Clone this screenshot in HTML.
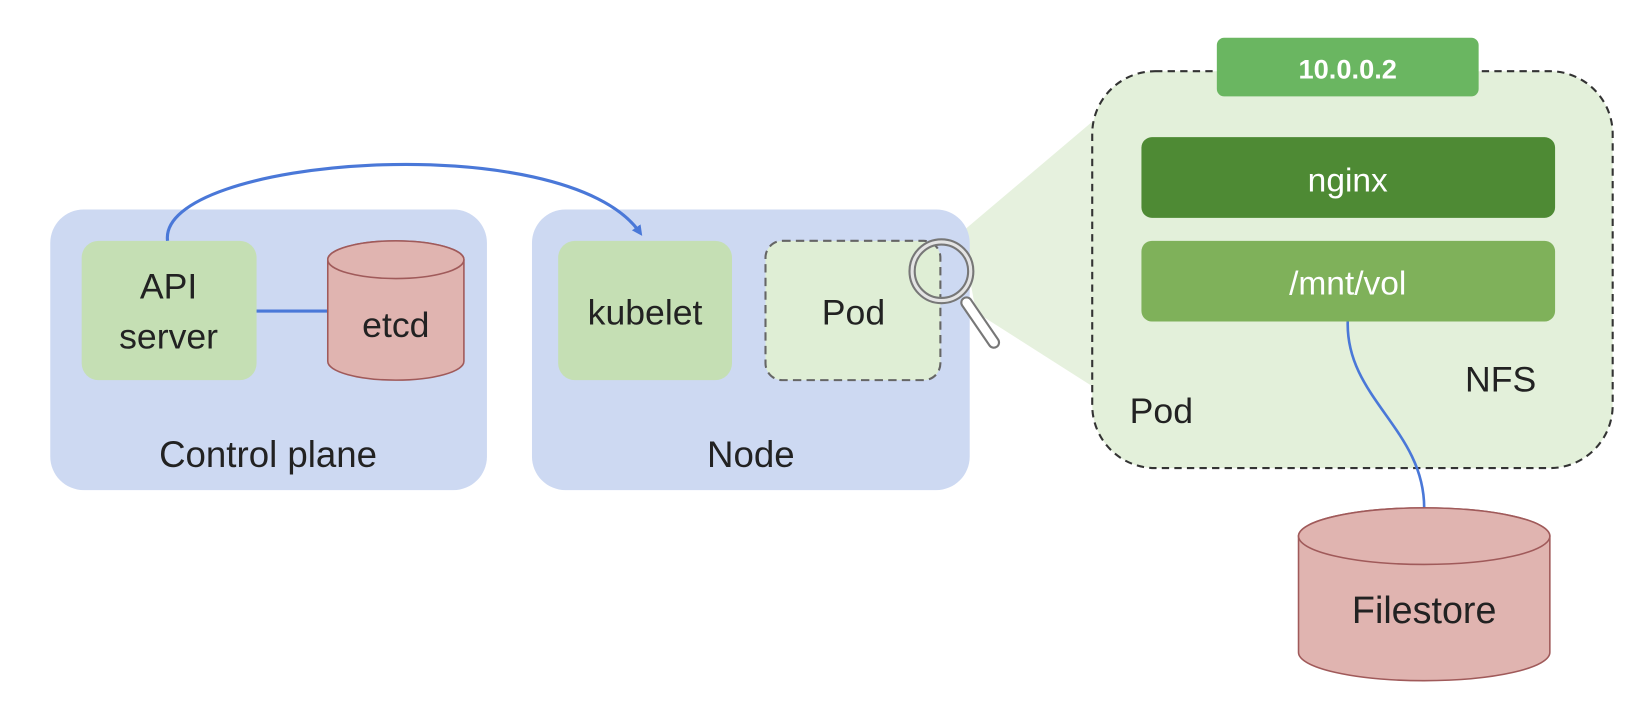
<!DOCTYPE html>
<html><head><meta charset="utf-8"><style>
html,body{margin:0;padding:0;background:#fff;}
svg{display:block;}
text{font-family:"Liberation Sans",sans-serif;}
</style></head><body>
<svg width="1642" height="710" viewBox="0 0 1568 678" preserveAspectRatio="none" xmlns="http://www.w3.org/2000/svg">
<defs>
<marker id="ah" markerWidth="10" markerHeight="10" refX="6" refY="5" orient="auto" markerUnits="userSpaceOnUse" viewBox="0 0 10 10">
<path d="M0,0 L10,5 L0,10 Z" fill="#4a78d8"/>
</marker>
</defs>
<!-- zoom wedge -->
<polygon points="918,222 1048,112 1048,372 932,298" fill="#e6f1de"/>
<!-- control plane -->
<rect x="48" y="200" width="417" height="268" rx="32" fill="#cdd9f2"/>
<rect x="78" y="230" width="167" height="133" rx="16" fill="#c5dfb4"/>
<text x="161" y="285" font-size="34" text-anchor="middle" fill="#222">API</text>
<text x="161" y="333" font-size="34" text-anchor="middle" fill="#222">server</text>
<line x1="245" y1="297" x2="313" y2="297" stroke="#4a78d8" stroke-width="3"/>
<path d="M313,248 L313,345 A65,18 0 0 0 443,345 L443,248 A65,18 0 0 0 313,248 Z" fill="#e0b4b0" stroke="#a05a5a" stroke-width="1.5"/>
<ellipse cx="378" cy="248" rx="65" ry="18" fill="#e0b4b0" stroke="#a05a5a" stroke-width="1.5"/>
<text x="378" y="322" font-size="34" text-anchor="middle" fill="#222">etcd</text>
<text x="256" y="446" font-size="35" text-anchor="middle" fill="#222">Control plane</text>
<!-- node -->
<rect x="508" y="200" width="418" height="268" rx="32" fill="#cdd9f2"/>
<rect x="533" y="230" width="166" height="133" rx="16" fill="#c5dfb4"/>
<text x="616" y="310" font-size="34" text-anchor="middle" fill="#222">kubelet</text>
<rect x="731" y="230" width="167" height="133" rx="16" fill="#dfeed5" stroke="#666" stroke-width="2" stroke-dasharray="8,5"/>
<text x="815" y="310" font-size="34" text-anchor="middle" fill="#222">Pod</text>
<text x="717" y="446" font-size="35" text-anchor="middle" fill="#222">Node</text>
<!-- arc -->
<path d="M160,230 C150,150 540,120 611,222" fill="none" stroke="#4a78d8" stroke-width="3" marker-end="url(#ah)"/>
<!-- magnifier -->
<g stroke="#777" fill="none">
<circle cx="899" cy="259" r="28" stroke-width="7"/>
<circle cx="899" cy="259" r="28" stroke="#fff" stroke-width="3" opacity="0.8"/>
<line x1="923" y1="289" x2="949" y2="327" stroke-width="12" stroke-linecap="round"/>
<line x1="923" y1="289" x2="949" y2="327" stroke="#fff" stroke-width="8" stroke-linecap="round"/>
</g>
<!-- big pod -->
<rect x="1043" y="68" width="497" height="379" rx="60" fill="#e3f0da" stroke="#333" stroke-width="2" stroke-dasharray="7,5"/>
<rect x="1162" y="36" width="250" height="56" rx="7" fill="#6ab661"/>
<text x="1287" y="75" font-size="26" font-weight="bold" text-anchor="middle" fill="#fff">10.0.0.2</text>
<rect x="1090" y="131" width="395" height="77" rx="10" fill="#4e8a34"/>
<text x="1287" y="183" font-size="32" text-anchor="middle" fill="#fff">nginx</text>
<rect x="1090" y="230" width="395" height="77" rx="10" fill="#7fb15a"/>
<text x="1287" y="281" font-size="32" text-anchor="middle" fill="#fff">/mnt/vol</text>
<text x="1433" y="374" font-size="34" text-anchor="middle" fill="#222">NFS</text>
<text x="1109" y="404" font-size="34" text-anchor="middle" fill="#222">Pod</text>
<path d="M1287,307 C1285,380 1360,410 1360,485" fill="none" stroke="#4a78d8" stroke-width="2.5"/>
<!-- filestore -->
<path d="M1240,512 L1240,623 A120,27 0 0 0 1480,623 L1480,512 A120,27 0 0 0 1240,512 Z" fill="#e0b4b0" stroke="#a05a5a" stroke-width="1.5"/>
<ellipse cx="1360" cy="512" rx="120" ry="27" fill="#e0b4b0" stroke="#a05a5a" stroke-width="1.5"/>
<text x="1360" y="595" font-size="36" text-anchor="middle" fill="#222">Filestore</text>
</svg>
</body></html>
